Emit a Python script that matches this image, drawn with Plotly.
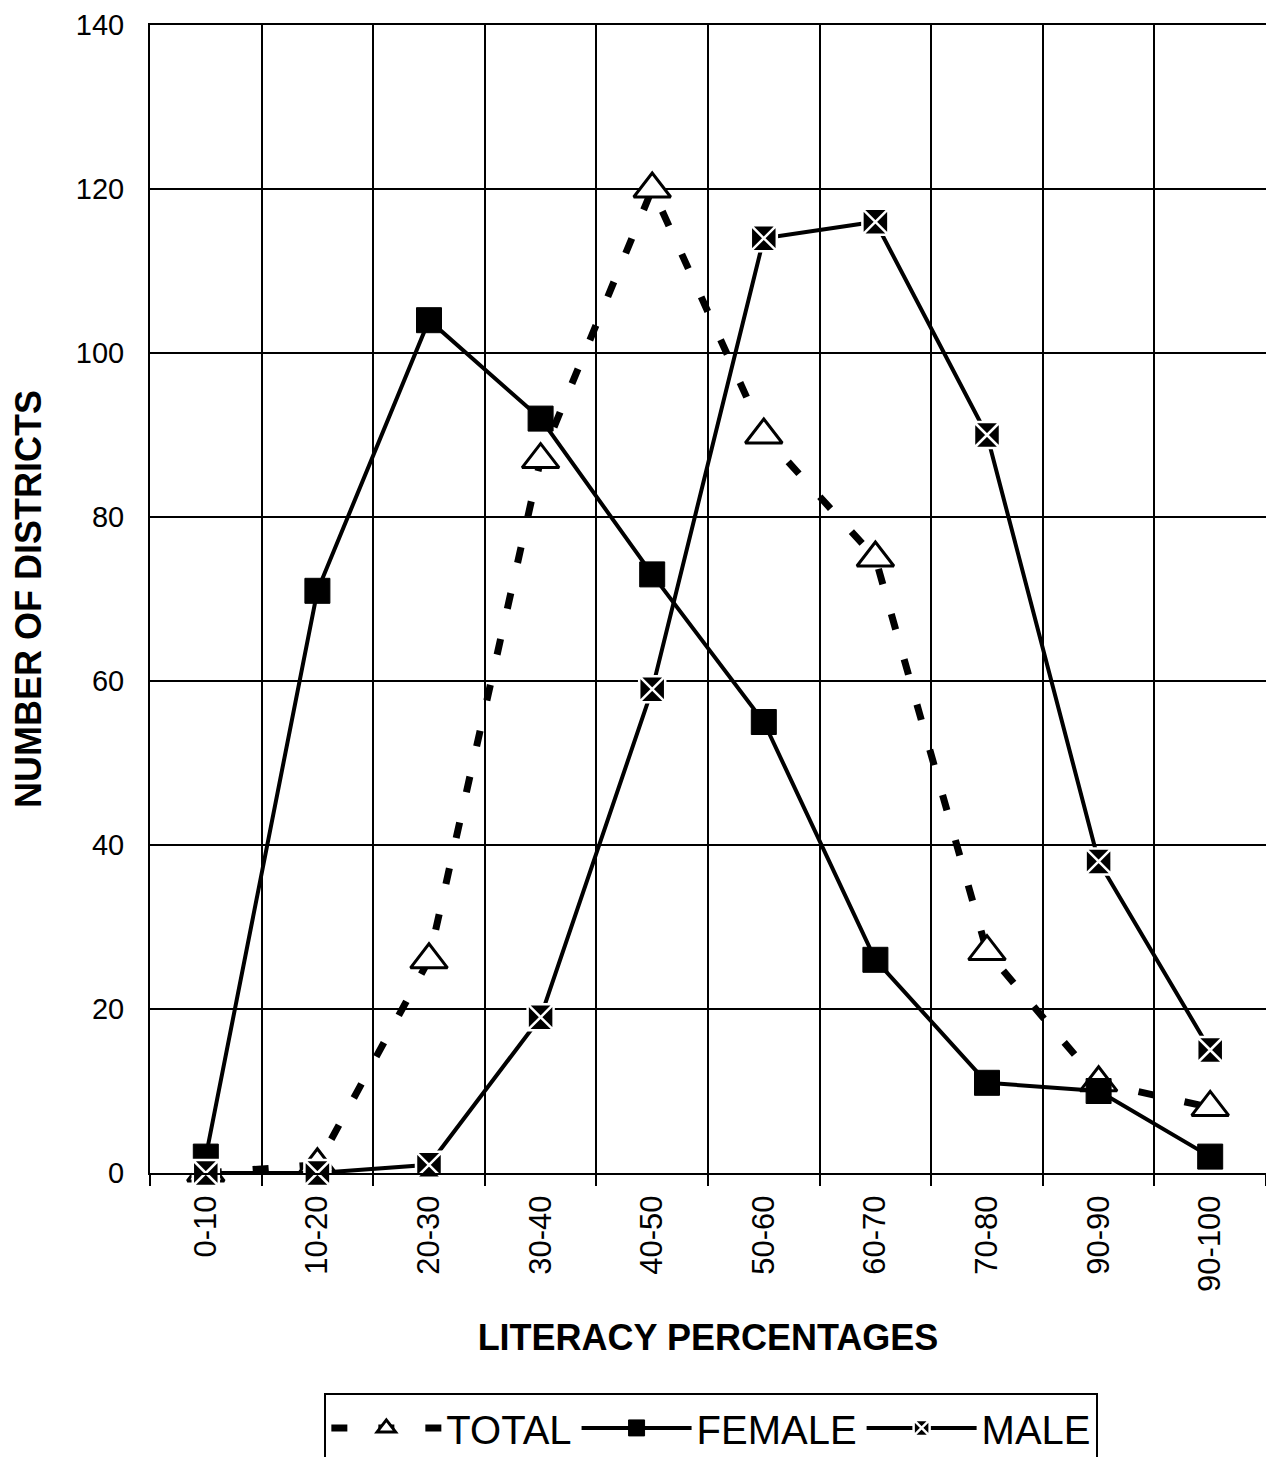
import plotly.graph_objects as go

categories = ["0-10", "10-20", "20-30", "30-40", "40-50", "50-60", "60-70", "70-80", "90-90", "90-100"]
total = [0, 1, 26, 87, 120, 90, 75, 27, 11, 8]
female = [2, 71, 104, 92, 73, 55, 26, 11, 10, 2]
male = [0, 0, 1, 19, 59, 114, 116, 90, 38, 15]
y_ticks = [0, 20, 40, 60, 80, 100, 120, 140]

FONT = "Liberation Sans, Arial, sans-serif"

fig = go.Figure()
fig.add_trace(go.Scatter(
    x=categories, y=total, name="TOTAL", mode="lines+markers",
    line=dict(color="black", width=7, dash="16px,31px"),
    marker=dict(symbol="triangle-up", size=32, color="white",
                line=dict(color="black", width=3)),
    cliponaxis=False,
))
fig.add_trace(go.Scatter(
    x=categories, y=female, name="FEMALE", mode="lines+markers",
    line=dict(color="black", width=4),
    marker=dict(symbol="square", size=25, color="black",
                line=dict(color="black", width=1)),
    cliponaxis=False,
))
fig.add_trace(go.Scatter(
    x=categories, y=male, name="MALE", mode="lines+markers",
    line=dict(color="black", width=4),
    marker=dict(symbol="square-x", size=26, color="black",
                line=dict(color="white", width=2.5)),
    cliponaxis=False,
))

fig.update_layout(
    width=1258, height=1449,
    margin=dict(l=142, r=0, t=17, b=284, autoexpand=False),
    paper_bgcolor="white", plot_bgcolor="white",
    font=dict(family=FONT, color="black", size=28),
    showlegend=True,
    legend=dict(
        orientation="h", x=0.503, xanchor="center", y=-0.192, yanchor="top",
        font=dict(size=40, family=FONT), bordercolor="black", borderwidth=2,
        bgcolor="white", itemsizing="trace", traceorder="normal",
        itemwidth=110,
    ),
)
fig.update_xaxes(
    type="category", categoryorder="array", categoryarray=categories,
    range=[-0.5, 9.5],
    tickson="boundaries", showgrid=True, gridcolor="black", gridwidth=2,
    showline=True, linecolor="black", linewidth=2, mirror=True,
    ticks="outside", ticklen=11, tickwidth=2, tickcolor="black",
    tickangle=-90, tickfont=dict(size=31, family=FONT), ticklabelstandoff=8,
    title=dict(text="<b>LITERACY PERCENTAGES</b>", font=dict(size=36, family=FONT), standoff=34),
)
fig.update_yaxes(
    range=[0, 140], tickvals=y_ticks, ticktext=[str(v) for v in y_ticks],
    showgrid=True, gridcolor="black", gridwidth=2, zeroline=False,
    showline=True, linecolor="black", linewidth=2, mirror=True,
    ticks="", ticklabelstandoff=18, tickfont=dict(size=29, family=FONT),
    title=dict(text="<b>NUMBER OF DISTRICTS</b>", font=dict(size=36, family=FONT), standoff=28),
)

fig.write_html("out.html")
